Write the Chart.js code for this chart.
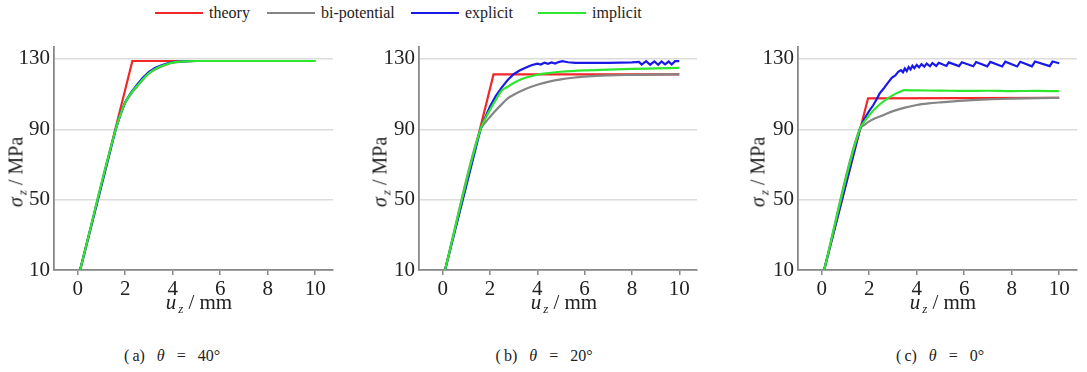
<!DOCTYPE html>
<html>
<head>
<meta charset="utf-8">
<script src="https://cdn.jsdelivr.net/npm/chart.js@4/dist/chart.umd.min.js"></script>
<style>
  html, body { margin: 0; padding: 0; background: #fff; }
  body { width: 1087px; height: 372px; position: relative; overflow: hidden; font-family: "Liberation Serif", serif; color: #222; }
  canvas { position: absolute; top: 30px; }
  .leg { position: absolute; top: 3px; height: 20px; display: flex; align-items: center; font-size: 16px; white-space: nowrap; }
  .leg span.ln { display: inline-block; width: 48px; height: 2px; margin-right: 6px; }
  .xt { position: absolute; top: 290px; font-size: 21px; line-height: 24px; transform: translateX(-50%); white-space: nowrap; }
  .yt { position: absolute; font-size: 20px; line-height: 22px; transform: translate(-50%, -50%) rotate(-90deg); white-space: nowrap; }
  .sub { font-style: italic; font-size: 13px; position: relative; top: 4px; margin-left: 2px; margin-right: 5px; }
  .cap { position: absolute; top: 347px; font-size: 16px; line-height: 18px; transform: translateX(-50%); white-space: pre; word-spacing: 8px; }
</style>
</head>
<body>
<canvas id="chartA" width="345" height="270" style="left:0px"></canvas>
<canvas id="chartB" width="350" height="270" style="left:360px"></canvas>
<canvas id="chartC" width="347" height="270" style="left:740px"></canvas>

<div class="xt" style="left:199px"><i>u</i><span class="sub">z</span>/ mm</div>
<div class="xt" style="left:564px"><i>u</i><span class="sub">z</span>/ mm</div>
<div class="xt" style="left:943px"><i>u</i><span class="sub">z</span>/ mm</div>

<div class="yt" style="left:17px; top:172px"><i>σ</i><span class="sub">z</span>/ MPa</div>
<div class="yt" style="left:381px; top:172px"><i>σ</i><span class="sub">z</span>/ MPa</div>
<div class="yt" style="left:759px; top:172px"><i>σ</i><span class="sub">z</span>/ MPa</div>

<div class="cap" style="left:172px">(&#8201;a) <i>θ</i> = 40°</div>
<div class="cap" style="left:544px">(&#8201;b) <i>θ</i> = 20°</div>
<div class="cap" style="left:940px">(&#8201;c) <i>θ</i> = 0°</div>

<script>
const seriesNames = ['theory', 'bi-potential', 'explicit', 'implicit']
const seriesColors = ['#f02828', '#858585', '#1a1ae6', '#2ee82e']
const legendX = [155, 267, 411, 538]

const xTicks = [0, 2, 4, 6, 8, 10]
const yTicks = [10, 50, 90, 130]

// (a) theta = 40
const theoryA = [[0.1, 10], [2.3, 128.8], [10, 128.8]]
const biA = [[0.1, 10], [1.6, 90], [1.8, 98.3], [2.0, 105], [2.25, 110.2], [2.5, 114.3], [2.75, 118.3], [3.0, 121.7], [3.25, 124], [3.5, 125.6], [3.75, 126.9], [4.0, 127.8], [4.5, 128.5], [5, 128.8], [6, 128.8], [10, 128.8]]
const explicitA = [[0.1, 10], [1.6, 90], [1.8, 98.6], [2.0, 105.5], [2.25, 111], [2.5, 115.3], [2.75, 119.4], [3.0, 122.7], [3.25, 124.8], [3.5, 126.3], [3.75, 127.4], [4.0, 128.2], [4.5, 128.7], [5, 128.8], [6, 128.8], [10, 128.8]]
const implicitA = [[0.1, 10], [1.6, 90], [1.8, 98.5], [2.0, 105.3], [2.25, 110.5], [2.5, 114.6], [2.75, 118.6], [3.0, 122], [3.25, 124.2], [3.5, 125.8], [3.75, 127], [4.0, 127.9], [4.5, 128.6], [5, 128.8], [6, 128.8], [10, 128.8]]

// (b) theta = 20
const theoryB = [[0.1, 10], [2.15, 121.2], [10, 121.2]]
const biB = [[0.1, 10], [1.6, 90], [1.8, 93.8], [2.0, 97], [2.25, 100.8], [2.5, 104.3], [2.75, 107.6], [3.0, 109.6], [3.5, 112.9], [4.0, 115.3], [4.5, 117.1], [5.0, 118.4], [5.5, 119.3], [6.0, 119.9], [7.0, 120.6], [8.0, 120.9], [9, 121.1], [10, 121.2]]
const explicitB = [[0.1, 10], [1.6, 90], [1.8, 96.8], [2.0, 103], [2.25, 109], [2.5, 113.8], [2.75, 118], [3.0, 121.3], [3.25, 123.4], [3.5, 125], [3.75, 126.4], [4.0, 127.3], [4.15, 126.8], [4.3, 127.8], [4.45, 127.2], [4.6, 128], [4.75, 127.4], [4.9, 128.2], [5.05, 128.7], [5.3, 128.1], [5.6, 127.8], [6, 127.7], [7, 127.7], [8, 128], [8.3, 128.3], [8.41, 126.8], [8.6, 128.7], [8.77, 126.7], [8.95, 128.6], [9.11, 126.7], [9.25, 128.6], [9.4, 126.9], [9.55, 128.5], [9.68, 126.8], [9.82, 128.7], [10, 128.7]]
const implicitB = [[0.1, 10], [1.6, 90], [1.8, 96], [2.0, 101], [2.25, 106.8], [2.5, 112], [2.75, 114.2], [3.0, 116.3], [3.25, 118], [3.5, 119.3], [4.0, 121], [4.5, 122], [5.0, 122.7], [6, 123.5], [7, 123.9], [8, 124.3], [9, 124.6], [10, 124.9]]

// (c) theta = 0
const theoryC = [[0.1, 10], [1.95, 107.6], [10, 107.9]]
const biC = [[0.1, 10], [1.6, 90], [1.8, 92.5], [2.0, 94.5], [2.25, 96.3], [2.5, 97.5], [2.75, 99], [3.0, 100.3], [3.5, 102.3], [4.0, 103.8], [4.5, 104.7], [5, 105.3], [6, 106.3], [7, 107], [8, 107.4], [9, 107.7], [10, 107.9]]
const explicitC = [[0.1, 10], [1.6, 90], [1.8, 96], [2.0, 100.5], [2.16, 103.5], [2.3, 106.8], [2.44, 110.4], [2.6, 113], [2.72, 115.2], [2.85, 117.5], [2.95, 119.3], [3.1, 120.6], [3.22, 122.6], [3.34, 123.6], [3.42, 122.4], [3.5, 124.6], [3.58, 123.1], [3.66, 125.4], [3.74, 124], [3.82, 126.1], [3.9, 124.7], [4.0, 126.6], [4.1, 125.2], [4.2, 127], [4.32, 125.6], [4.42, 127.3], [4.56, 125.8], [4.66, 127.6], [4.82, 126], [4.93, 127.8], [5.25, 126], [5.35, 128], [5.78, 125.9], [5.9, 128.1], [6.38, 125.8], [6.5, 128.2], [6.97, 125.8], [7.1, 128.3], [7.6, 125.7], [7.73, 128.4], [8.23, 125.7], [8.36, 128.4], [8.85, 125.8], [8.98, 128.5], [9.6, 125.9], [9.72, 128.5], [10, 127.5]]
const implicitC = [[0.1, 10], [1.6, 90], [1.8, 94.5], [2.0, 98], [2.25, 101.8], [2.5, 104.8], [2.75, 107.3], [3.0, 109.4], [3.25, 111], [3.5, 112.2], [4, 112.1], [5, 112], [6, 111.8], [7, 111.9], [8, 111.7], [9, 111.8], [10, 111.7]]

// legend, built from the names/colours above
seriesNames.forEach((name, i) => {
    const d = document.createElement('div')
    d.className = 'leg'
    d.style.left = legendX[i] + 'px'
    d.innerHTML = '<span class="ln" style="background:' + seriesColors[i] + '"></span>' + name
    document.body.appendChild(d)
})

const tickFont = { family: 'Liberation Serif', size: 21 }

function toXY(arr) {
    return arr.map(p => ({ x: p[0], y: p[1] }))
}

function makeChart(id, series, yWidth, padRight) {
    const smooth = [false, true, false, true]
    const ctx = document.getElementById(id)
    return new Chart(ctx, {
        type: 'line',
        data: {
            datasets: series.map((s, i) => ({
                label: seriesNames[i],
                data: toXY(s),
                borderColor: seriesColors[i],
                borderWidth: 2.2,
                pointRadius: 0,
                fill: false,
                cubicInterpolationMode: smooth[i] ? 'monotone' : 'default',
                tension: 0,
                order: 3 - i
            }))
        },
        options: {
            responsive: false,
            animation: false,
            layout: { padding: { top: 13, right: padRight, left: 0, bottom: 0 } },
            plugins: { legend: { display: false }, tooltip: { enabled: false } },
            scales: {
                x: {
                    type: 'linear',
                    min: -1,
                    max: 10.75,
                    afterBuildTicks: s => { s.ticks = xTicks.map(v => ({ value: v })) },
                    afterFit: s => { s.height = 30 },
                    grid: { drawOnChartArea: false, drawTicks: true, tickLength: 5, color: '#888', lineWidth: 1.5 },
                    border: { color: '#888', width: 1.8 },
                    ticks: { font: tickFont, color: '#222', padding: 2, maxRotation: 0 }
                },
                y: {
                    type: 'linear',
                    min: 10,
                    max: 137,
                    afterBuildTicks: s => { s.ticks = yTicks.map(v => ({ value: v })) },
                    afterFit: s => { s.width = yWidth },
                    grid: { color: '#dcdcdc', lineWidth: 1.5, drawTicks: false },
                    border: { color: '#888', width: 1.8 },
                    ticks: { font: tickFont, color: '#222', padding: 4 }
                }
            }
        }
    })
}

makeChart('chartA', [theoryA, biA, explicitA, implicitA], 54, 12)
makeChart('chartB', [theoryB, biB, explicitB, implicitB], 59, 13)
makeChart('chartC', [theoryC, biC, explicitC, implicitC], 58, 10)
</script>
</body>
</html>
